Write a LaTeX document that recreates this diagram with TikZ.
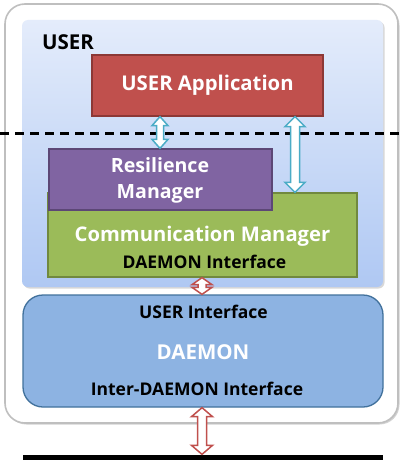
\documentclass[tikz,border=0pt]{standalone}
\usepackage{fontspec}
\setmainfont{Open Sans}
\usetikzlibrary{shadows,calc}

\definecolor{appred}{HTML}{C0504D}
\definecolor{appredline}{HTML}{8C3836}
\definecolor{respurple}{HTML}{8064A2}
\definecolor{respurpleline}{HTML}{5C4776}
\definecolor{commgreen}{HTML}{9BBB59}
\definecolor{commgreenline}{HTML}{71893F}
\definecolor{daemonblue}{HTML}{8DB3E2}
\definecolor{daemonline}{HTML}{41719C}
\definecolor{usertop}{HTML}{E4ECFB}
\definecolor{userbottom}{HTML}{AFC8F3}
\definecolor{arrowcyan}{HTML}{4BACC6}
\definecolor{framegray}{HTML}{BFBFBF}

% hollow double-headed arrow between two points (top, bottom)
% #1 top, #2 bottom, #3 colour, #4 half shaft width, #5 half head width, #6 head length
\newcommand\hollowarrow[6]{%
  \draw[line width=1.5pt, draw=#3, fill=white, line join=miter]
    ([xshift=-#4pt,yshift=-#6pt]#1) -- ([xshift=-#5pt,yshift=-#6pt]#1) -- (#1)
    -- ([xshift=#5pt,yshift=-#6pt]#1) -- ([xshift=#4pt,yshift=-#6pt]#1)
    -- ([xshift=#4pt,yshift=#6pt]#2) -- ([xshift=#5pt,yshift=#6pt]#2) -- (#2)
    -- ([xshift=-#5pt,yshift=#6pt]#2) -- ([xshift=-#4pt,yshift=#6pt]#2) -- cycle;}

\begin{document}
\begin{tikzpicture}[x=1pt,y=-1pt,
  box/.style={draw, line width=1.3pt, inner sep=0pt, anchor=center},
  whitelabel/.style={text=white, font=\bfseries, inner sep=0pt, align=center},
  blacklabel/.style={text=black, font=\bfseries, inner sep=0pt}]
\useasboundingbox (0,0) rectangle (400,460);

% outer frame
\node[box, draw=framegray, fill=white, rounded corners=20pt, line width=1.6pt,
      minimum width=393pt, minimum height=419pt,
      drop shadow={shadow xshift=1.5pt, shadow yshift=-1.5pt, opacity=0.3, fill=black!60}]
  (outer) at (201.5,213.5) {};

% user space
\node[box, draw=none, top color=usertop, bottom color=userbottom, rounded corners=6pt,
      minimum width=361pt, minimum height=267pt,
      drop shadow={shadow xshift=1.5pt, shadow yshift=-1.5pt, opacity=0.25, fill=black!60}]
  (user) at (202.5,153.5) {};
\node[blacklabel, anchor=west, font=\bfseries\fontsize{20.5}{20.5}\selectfont] (userlbl) at (42,42) {USER};

% kernel boundary
\draw[line width=3pt, dash pattern=on 9pt off 6pt] (0,133) coordinate (dl) -- (400,133) coordinate (dr);

% user application
\node[box, fill=appred, draw=appredline, minimum width=231pt, minimum height=61pt]
  (app) at (207.5,85.5) {};
\node[whitelabel, font=\bfseries\fontsize{20.3}{20.3}\selectfont] (applbl) at (207.5,85) {USER Application};

% communication manager (behind the resilience manager)
\node[box, fill=commgreen, draw=commgreenline, minimum width=309pt, minimum height=84pt]
  (comm) at (202.5,235) {};
\node[whitelabel, font=\bfseries\fontsize{20.2}{20.2}\selectfont] (commlbl) at (202.5,236) {Communication Manager};
\node[blacklabel, font=\bfseries\fontsize{17.5}{17.5}\selectfont] (commif) at (204.5,262) {DAEMON Interface};

% resilience manager
\node[box, fill=respurple, draw=respurpleline, minimum width=223pt, minimum height=61pt]
  (res) at (160.5,179.5) {};
\node[whitelabel, font=\bfseries\fontsize{19.6}{26}\selectfont] (reslbl) at (160,180) {Resilience\\Manager};

% daemon
\node[box, fill=daemonblue, draw=daemonline, rounded corners=20pt,
      minimum width=360pt, minimum height=112pt]
  (daemon) at (203,351) {};
\node[blacklabel, font=\bfseries\fontsize{17.5}{17.5}\selectfont] (userif) at (203.5,312) {USER Interface};
\node[whitelabel, font=\bfseries\fontsize{20.5}{20.5}\selectfont] (daemonlbl) at (203,352) {DAEMON};
\node[blacklabel, font=\bfseries\fontsize{17.5}{17.5}\selectfont] (interif) at (197,389) {Inter-DAEMON Interface};

% network below
\node[box, fill=black, draw=none, minimum width=360pt, minimum height=6pt] (net) at (203,458) {};

% arrow axes
\coordinate (ax1) at (160,0);
\coordinate (ax2) at (295,0);
\coordinate (ax3) at (202,0);
\coordinate (a1t) at (app.south -| ax1);
\coordinate (a1b) at (res.north -| ax1);
\coordinate (a2t) at (app.south -| ax2);
\coordinate (a2b) at (comm.north -| ax2);
\coordinate (a3t) at (comm.south -| ax3);
\coordinate (a3b) at (daemon.north -| ax3);
\coordinate (a4t) at (daemon.south -| ax3);
\coordinate (a4b) at (net.north -| ax3);

\hollowarrow{a1t}{a1b}{arrowcyan}{3.5}{8}{9}
\hollowarrow{a2t}{a2b}{arrowcyan}{4.5}{10}{10}
\hollowarrow{a3t}{a3b}{appred}{4}{10}{7}
\hollowarrow{a4t}{a4b}{appred}{4.5}{10.5}{9}
\end{tikzpicture}
\end{document}
